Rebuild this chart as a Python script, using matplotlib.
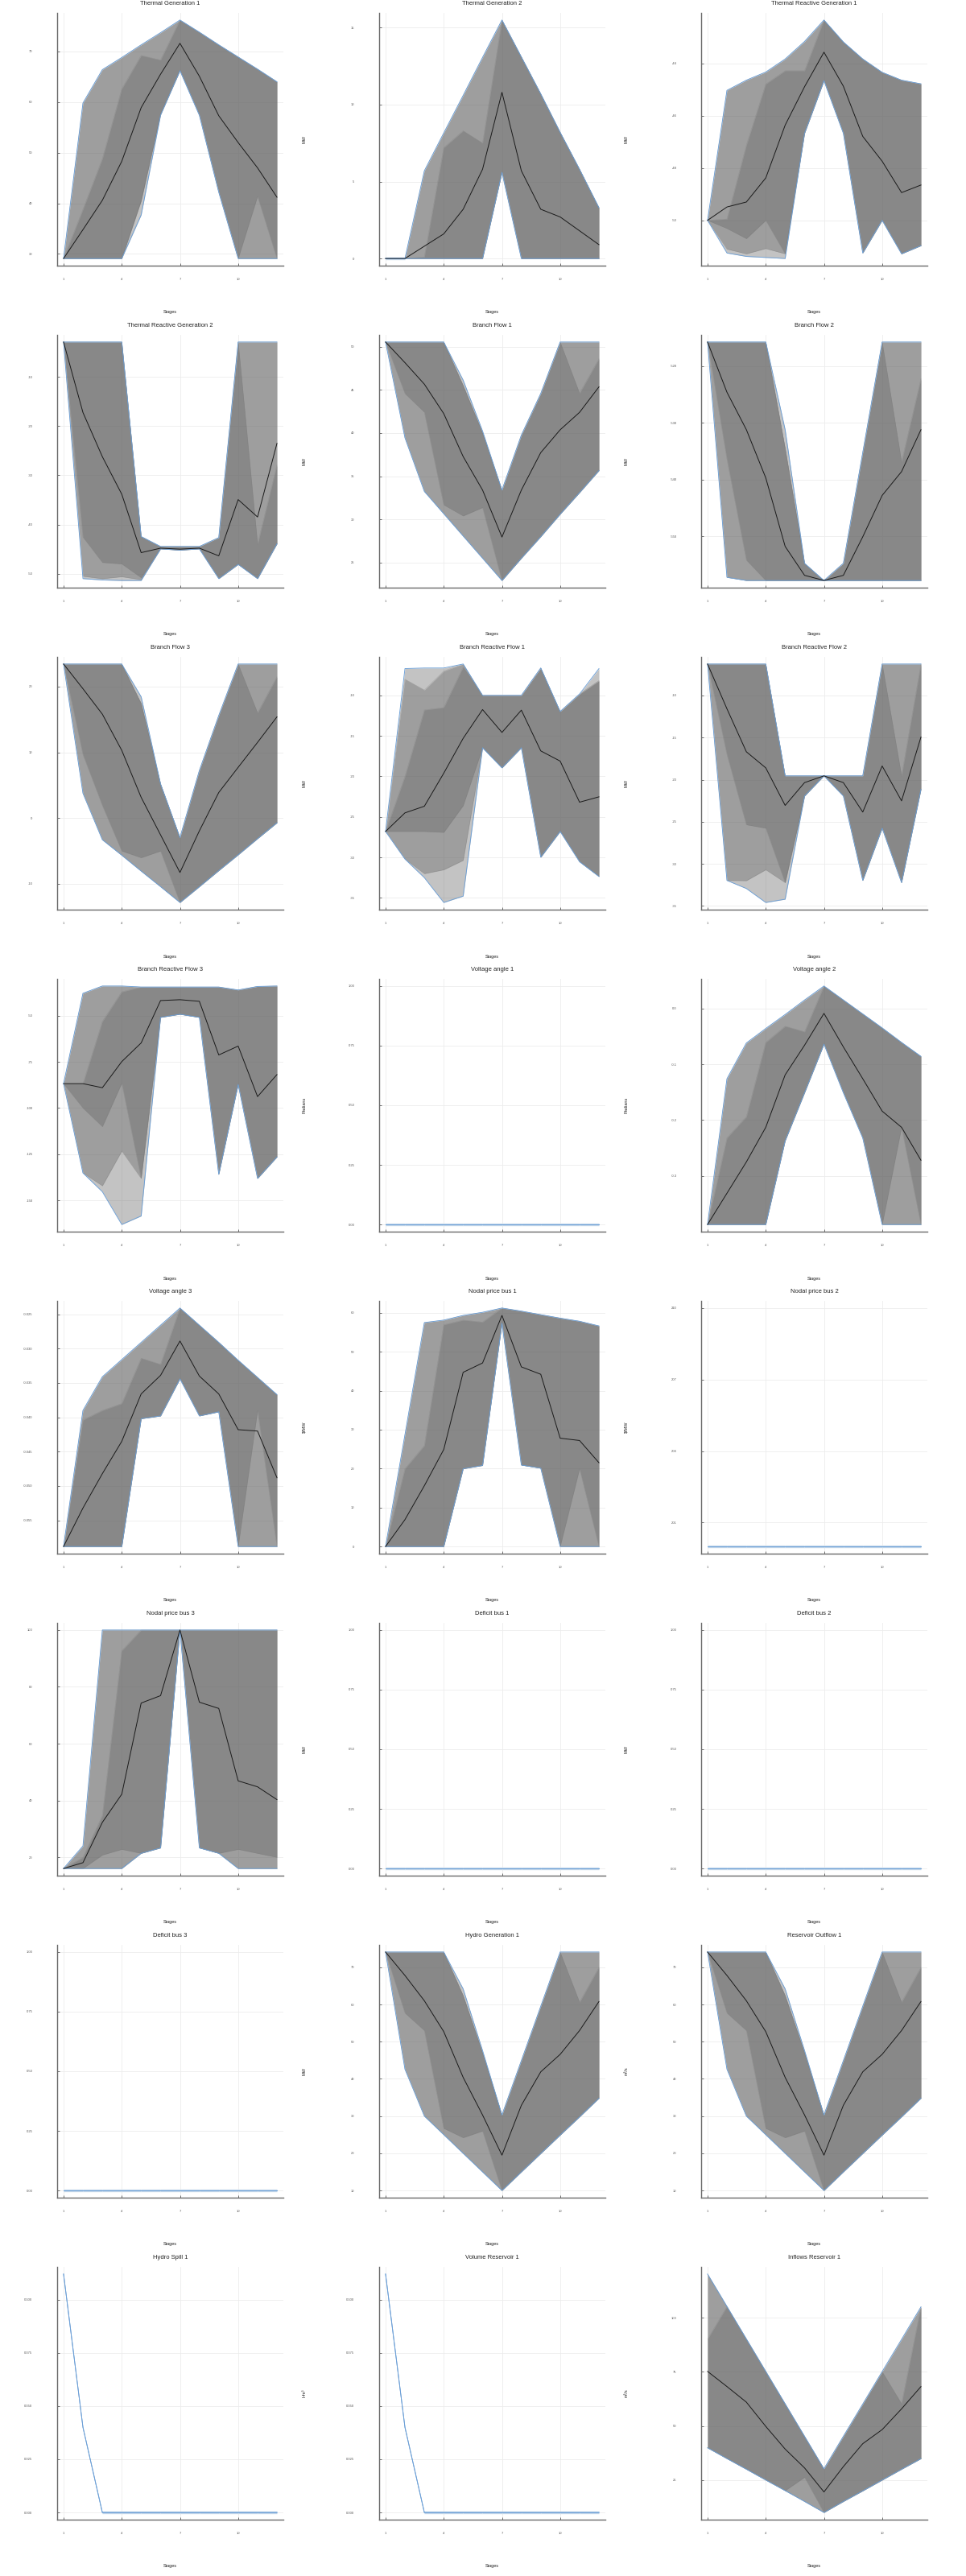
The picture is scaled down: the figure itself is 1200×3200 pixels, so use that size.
import matplotlib
matplotlib.use("Agg")
import matplotlib.pyplot as plt
import numpy as np

plt.rcParams['font.family'] = ['Liberation Sans', 'DejaVu Sans']

stages = list(range(1, 13))
xticks = [1, 4, 7, 10]

# ---- data: each panel = [q0, q10, q25, q50, q75, q90, q100] over 12 stages ----
tg1 = [
    [29.1, 29.1, 29.1, 29.1, 37.7, 57.4, 66.2, 57.4, 42.2, 29.1, 29.1, 29.1],
    [29.1, 29.1, 29.1, 29.1, 40.5, 57.6, 66.2, 57.4, 42.2, 29.1, 29.1, 29.1],
    [29.1, 29.1, 29.1, 29.1, 40.5, 57.6, 66.2, 57.4, 42.2, 29.1, 41.4, 29.1],
    [29.1, 34.8, 40.6, 48.3, 58.9, 65.5, 71.6, 65.1, 57.3, 52.0, 47.0, 41.2],
    [29.1, 38.8, 48.8, 62.6, 69.2, 68.3, 76.2, 73.8, 71.3, 68.9, 66.5, 64.0],
    [29.1, 59.8, 66.4, 68.8, 71.3, 73.7, 76.2, 73.8, 71.3, 68.9, 66.5, 64.0],
    [29.1, 59.8, 66.4, 68.8, 71.3, 73.7, 76.2, 73.8, 71.3, 68.9, 66.5, 64.0],
]
tg2 = [
    [0, 0, 0, 0, 0, 0, 5.6, 0, 0, 0, 0, 0],
    [0, 0, 0, 0, 0, 0, 5.6, 0, 0, 0, 0, 0],
    [0, 0, 0, 0, 0, 0, 5.6, 0, 0, 0, 0, 0],
    [0, 0, 0.8, 1.6, 3.2, 5.8, 10.8, 5.7, 3.2, 2.7, 1.8, 0.9],
    [0, 0, 0.1, 7.2, 8.3, 7.5, 15.5, 13.1, 10.7, 8.2, 5.8, 3.3],
    [0, 0, 5.7, 8.16, 10.6, 13.07, 15.5, 13.1, 10.7, 8.2, 5.8, 3.3],
    [0, 0, 5.7, 8.16, 10.6, 13.07, 15.5, 13.1, 10.7, 8.2, 5.8, 3.3],
]
trg1 = [
    [-50, -51.25, -51.38, -51.42, -51.46, -46.67, -44.66, -46.67, -51.25, -50.0, -51.28, -50.97],
    [-50, -51.1, -51.28, -51.08, -51.28, -46.67, -44.66, -46.67, -51.25, -50.0, -51.28, -50.97],
    [-50, -50.31, -50.70, -50.0, -51.28, -46.67, -44.66, -46.67, -51.25, -50.0, -51.28, -50.97],
    [-50, -49.49, -49.30, -48.38, -46.36, -44.89, -43.57, -44.87, -46.79, -47.74, -48.94, -48.65],
    [-50, -49.95, -47.13, -44.79, -44.28, -44.28, -42.34, -43.18, -43.83, -44.34, -44.64, -44.78],
    [-50, -45.03, -44.64, -44.33, -43.83, -43.16, -42.34, -43.18, -43.83, -44.34, -44.64, -44.78],
    [-50, -45.03, -44.64, -44.33, -43.83, -43.16, -42.34, -43.18, -43.83, -44.34, -44.64, -44.78],
]
trg2 = [
    [-2.92, -50.99, -51.26, -51.37, -51.37, -44.95, -45.2, -44.95, -50.99, -48.1, -50.99, -43.91],
    [-2.92, -50.5, -51.0, -50.6, -51.2, -44.95, -45.2, -44.95, -50.99, -48.1, -50.99, -43.91],
    [-2.92, -42.55, -47.7, -48.0, -50.8, -44.95, -45.2, -44.95, -50.99, -48.1, -50.99, -43.91],
    [-2.92, -17.24, -26.22, -33.84, -45.71, -44.8, -45.0, -44.8, -46.36, -34.93, -38.47, -23.5],
    [-2.92, -2.92, -2.92, -2.92, -42.44, -44.46, -44.46, -44.46, -42.66, -2.92, -44.0, -27.9],
    [-2.92, -2.92, -2.92, -2.92, -42.44, -44.46, -44.46, -44.46, -42.66, -2.92, -2.92, -2.92],
    [-2.92, -2.92, -2.92, -2.92, -42.44, -44.46, -44.46, -44.46, -42.66, -2.92, -2.92, -2.92],
]
bf1 = [
    [50.53, 39.44, 33.23, 30.65, 28.07, 25.5, 22.92, 25.5, 28.0, 30.6, 33.1, 35.65],
    [50.53, 39.44, 33.23, 30.65, 28.07, 25.5, 22.92, 25.5, 28.0, 30.6, 33.1, 35.65],
    [50.53, 44.57, 42.4, 31.68, 30.4, 31.37, 22.92, 25.5, 28.0, 30.6, 33.1, 35.65],
    [50.53, 48.14, 45.65, 42.24, 37.27, 33.39, 27.95, 33.39, 37.73, 40.37, 42.39, 45.34],
    [50.53, 50.53, 50.53, 50.53, 45.5, 40.0, 33.39, 39.75, 44.57, 50.53, 44.6, 48.6],
    [50.53, 50.53, 50.53, 50.53, 45.5, 40.0, 33.39, 39.75, 44.57, 50.53, 50.53, 50.53],
    [50.53, 50.53, 50.53, 50.53, 46.12, 40.22, 33.39, 39.75, 44.57, 50.53, 50.53, 50.53],
]
bf2 = [
    [-515.74, -557.25, -557.81, -557.81, -557.81, -557.81, -557.81, -557.81, -557.81, -557.81, -557.81, -557.81],
    [-515.74, -557.25, -557.81, -557.81, -557.81, -557.81, -557.81, -557.81, -557.81, -557.81, -557.81, -557.81],
    [-515.74, -536.4, -554.2, -557.81, -557.81, -557.81, -557.81, -557.81, -557.81, -557.81, -557.81, -557.81],
    [-515.74, -524.6, -531.2, -539.7, -551.8, -556.9, -557.8, -556.9, -550.1, -542.8, -538.6, -531.2],
    [-515.74, -515.74, -515.74, -515.74, -534.53, -554.78, -557.81, -554.78, -535.24, -515.74, -536.9, -522.2],
    [-515.74, -515.74, -515.74, -515.74, -534.53, -554.78, -557.81, -554.78, -535.24, -515.74, -515.74, -515.74],
    [-515.74, -515.74, -515.74, -515.74, -531.22, -554.78, -557.81, -554.78, -535.24, -515.74, -515.74, -515.74],
]
bf3 = [
    [23.43, 3.76, -3.31, -5.67, -8.08, -10.45, -12.86, -10.45, -8.0, -5.6, -3.14, -0.73],
    [23.43, 3.76, -3.31, -5.67, -8.08, -10.45, -12.86, -10.45, -8.0, -5.6, -3.14, -0.73],
    [23.43, 9.67, 1.92, -5.02, -6.04, -5.02, -12.86, -10.45, -8.0, -5.6, -3.14, -0.73],
    [23.43, 19.67, 15.8, 10.29, 3.14, -2.57, -8.29, -1.96, 3.88, 7.71, 11.51, 15.39],
    [23.43, 23.43, 23.43, 23.43, 17.43, 5.18, -2.98, 7.22, 15.59, 23.43, 16.0, 21.5],
    [23.43, 23.43, 23.43, 23.43, 17.43, 5.18, -2.98, 7.22, 15.59, 23.43, 23.43, 23.43],
    [23.43, 23.43, 23.43, 23.43, 18.45, 5.18, -2.98, 7.22, 15.59, 23.43, 23.43, 23.43],
]
brf1 = [
    [-26.79, -30.2, -32.5, -35.56, -34.77, -16.46, -18.94, -16.46, -29.97, -26.79, -30.53, -32.35],
    [-26.79, -30.2, -32.0, -31.52, -30.36, -16.46, -18.94, -16.46, -29.97, -26.79, -30.53, -32.35],
    [-26.79, -26.79, -26.79, -26.9, -23.6, -16.46, -18.94, -16.46, -29.97, -26.79, -30.53, -32.35],
    [-26.79, -24.5, -23.68, -19.6, -15.3, -11.75, -14.57, -11.82, -16.85, -18.11, -23.18, -22.52],
    [-26.79, -20.0, -11.8, -11.5, -6.5, -10.0, -10.0, -10.0, -6.62, -11.99, -9.83, -8.2],
    [-26.79, -8.0, -9.34, -7.0, -6.13, -10.0, -10.0, -10.0, -6.62, -11.99, -9.83, -8.2],
    [-26.79, -6.69, -6.62, -6.62, -6.13, -10.0, -10.0, -10.0, -6.62, -11.99, -9.83, -6.69],
]
brf2 = [
    [-6.27, -31.97, -32.93, -34.59, -34.2, -21.94, -19.55, -21.94, -31.97, -25.76, -32.23, -21.15],
    [-6.27, -31.97, -32.0, -30.7, -32.23, -21.94, -19.55, -21.94, -31.97, -25.76, -32.23, -21.15],
    [-6.27, -17.0, -25.35, -25.76, -32.23, -21.94, -19.55, -21.94, -31.97, -25.76, -32.23, -21.15],
    [-6.27, -11.59, -16.69, -18.6, -23.06, -20.35, -19.55, -20.35, -23.85, -18.38, -22.52, -14.94],
    [-6.27, -6.27, -6.27, -6.27, -19.55, -19.55, -19.55, -19.55, -19.55, -6.27, -19.55, -6.27],
    [-6.27, -6.27, -6.27, -6.27, -19.55, -19.55, -19.55, -19.55, -19.55, -6.27, -6.27, -6.27],
    [-6.27, -6.27, -6.27, -6.27, -19.55, -19.55, -19.55, -19.55, -19.55, -6.27, -6.27, -6.27],
]
brf3 = [
    [-86.8, -135.07, -145.2, -162.9, -158.3, -51.0, -49.3, -51.0, -135.8, -87.2, -138.0, -126.4],
    [-86.8, -135.07, -142.0, -123.2, -138.0, -51.0, -49.3, -51.0, -135.8, -87.2, -138.0, -126.4],
    [-86.8, -100.0, -110.0, -86.5, -138.0, -51.0, -49.3, -51.0, -135.8, -87.2, -138.0, -126.4],
    [-86.8, -86.8, -89.0, -74.9, -64.8, -41.9, -41.45, -42.3, -71.3, -66.5, -93.8, -81.9],
    [-86.8, -86.8, -53.2, -37.2, -34.6, -34.6, -34.6, -34.6, -34.6, -36.2, -34.3, -34.06],
    [-86.8, -37.97, -34.06, -34.06, -34.6, -34.6, -34.6, -34.6, -34.6, -36.2, -34.3, -34.06],
    [-86.8, -37.97, -34.06, -34.06, -34.6, -34.6, -34.6, -34.6, -34.6, -36.2, -34.3, -34.06],
]
va1 = [[0.0] * 12 for _ in range(7)]
va2 = [
    [-0.387, -0.387, -0.387, -0.387, -0.237, -0.151, -0.064, -0.151, -0.232, -0.387, -0.387, -0.387],
    [-0.387, -0.387, -0.387, -0.387, -0.237, -0.151, -0.064, -0.151, -0.232, -0.387, -0.387, -0.387],
    [-0.387, -0.387, -0.387, -0.387, -0.237, -0.151, -0.064, -0.151, -0.232, -0.387, -0.213, -0.387],
    [-0.387, -0.331, -0.275, -0.213, -0.119, -0.066, -0.009, -0.069, -0.126, -0.184, -0.213, -0.272],
    [-0.387, -0.232, -0.194, -0.061, -0.032, -0.042, 0.040, 0.015, -0.010, -0.035, -0.061, -0.086],
    [-0.387, -0.126, -0.062, -0.036, -0.011, 0.015, 0.040, 0.015, -0.010, -0.035, -0.061, -0.086],
    [-0.387, -0.126, -0.062, -0.036, -0.011, 0.015, 0.040, 0.015, -0.010, -0.035, -0.061, -0.086],
]
va3 = [
    [-0.0588, -0.0588, -0.0588, -0.0588, -0.0402, -0.0398, -0.0344, -0.0398, -0.0392, -0.0588, -0.0588, -0.0588],
    [-0.0588, -0.0588, -0.0588, -0.0588, -0.0402, -0.0398, -0.0344, -0.0398, -0.0392, -0.0588, -0.0588, -0.0588],
    [-0.0588, -0.0588, -0.0588, -0.0588, -0.0402, -0.0398, -0.0344, -0.0398, -0.0392, -0.0588, -0.0390, -0.0588],
    [-0.0588, -0.0532, -0.0482, -0.0435, -0.0366, -0.0339, -0.0289, -0.0340, -0.0366, -0.0418, -0.0420, -0.0488],
    [-0.0588, -0.0404, -0.0390, -0.0380, -0.0314, -0.0323, -0.0241, -0.0266, -0.0291, -0.0317, -0.0342, -0.0367],
    [-0.0588, -0.0390, -0.0341, -0.0316, -0.0291, -0.0266, -0.0241, -0.0266, -0.0291, -0.0317, -0.0342, -0.0367],
    [-0.0588, -0.0390, -0.0341, -0.0316, -0.0291, -0.0266, -0.0241, -0.0266, -0.0291, -0.0317, -0.0342, -0.0367],
]
np1 = [
    [0, 0, 0, 0, 19.96, 20.8, 57.3, 20.9, 20.1, 0, 0, 0],
    [0, 0, 0, 0, 19.96, 20.8, 57.3, 20.9, 20.1, 0, 0, 0],
    [0, 0, 0, 0, 19.96, 20.8, 57.3, 20.9, 20.1, 0, 19.96, 0],
    [0, 6.9, 15.6, 24.9, 44.7, 47.1, 59.3, 46.1, 44.2, 27.8, 27.2, 21.5],
    [0, 19.96, 25.9, 56.9, 58.1, 57.6, 61.2, 60.4, 59.5, 58.6, 57.8, 56.6],
    [0, 28.7, 57.47, 58.1, 59.3, 60.1, 61.2, 60.4, 59.5, 58.6, 57.8, 56.6],
    [0, 28.7, 57.47, 58.1, 59.3, 60.1, 61.2, 60.4, 59.5, 58.6, 57.8, 56.6],
]
np2 = [[200.0] * 12 for _ in range(7)]
np3 = [
    [16.05, 16.05, 16.05, 16.05, 21.4, 23.3, 100, 23.3, 21.4, 16.05, 16.05, 16.05],
    [16.05, 16.05, 16.05, 16.05, 21.4, 23.3, 100, 23.3, 21.4, 16.05, 16.05, 16.05],
    [16.05, 16.05, 20.8, 22.8, 21.4, 23.3, 100, 23.3, 21.4, 22.8, 21.4, 20.0],
    [16.05, 18.1, 32.3, 42.2, 74.3, 76.9, 100, 74.6, 72.4, 46.9, 44.8, 40.3],
    [16.05, 20.0, 34.7, 92.7, 100, 100, 100, 100, 100, 100, 100, 100],
    [16.05, 23.98, 100, 100, 100, 100, 100, 100, 100, 100, 100, 100],
    [16.05, 23.98, 100, 100, 100, 100, 100, 100, 100, 100, 100, 100],
]
db1 = [[0.0] * 12 for _ in range(7)]
db2 = [[0.0] * 12 for _ in range(7)]
db3 = [[0.0] * 12 for _ in range(7)]
hg1 = [
    [74.1, 42.6, 30.0, 25.0, 20.0, 15.0, 10.0, 15.0, 19.95, 24.9, 29.8, 34.8],
    [74.1, 42.6, 30.0, 25.0, 20.0, 15.0, 10.0, 15.0, 19.95, 24.9, 29.8, 34.8],
    [74.1, 57.7, 53.0, 26.7, 24.2, 26.0, 10.0, 15.0, 19.95, 24.9, 29.8, 34.8],
    [74.1, 67.8, 61.0, 52.7, 40.4, 30.3, 19.5, 32.9, 41.9, 46.6, 53.0, 60.8],
    [74.1, 74.1, 74.1, 74.1, 62.4, 47.0, 30.3, 44.9, 59.5, 74.1, 60.6, 70.0],
    [74.1, 74.1, 74.1, 74.1, 62.4, 47.0, 30.3, 44.9, 59.5, 74.1, 74.1, 74.1],
    [74.1, 74.1, 74.1, 74.1, 64.2, 47.6, 30.3, 44.9, 59.5, 74.1, 74.1, 74.1],
]
ro1 = [
    [74.1, 42.6, 30.0, 25.0, 20.0, 15.0, 10.0, 15.0, 19.95, 24.9, 29.8, 34.8],
    [74.1, 42.6, 30.0, 25.0, 20.0, 15.0, 10.0, 15.0, 19.95, 24.9, 29.8, 34.8],
    [74.1, 57.7, 53.0, 26.7, 24.2, 26.0, 10.0, 15.0, 19.95, 24.9, 29.8, 34.8],
    [74.1, 67.8, 61.0, 52.7, 40.4, 30.3, 19.5, 32.9, 41.9, 46.6, 53.0, 60.8],
    [74.1, 74.1, 74.1, 74.1, 62.4, 47.0, 30.3, 44.9, 59.5, 74.1, 60.6, 70.0],
    [74.1, 74.1, 74.1, 74.1, 62.4, 47.0, 30.3, 44.9, 59.5, 74.1, 74.1, 74.1],
    [74.1, 74.1, 74.1, 74.1, 64.2, 47.6, 30.3, 44.9, 59.5, 74.1, 74.1, 74.1],
]
hs1_row = [0.112, 0.040, 0, 0, 0, 0, 0, 0, 0, 0, 0, 0]
hs1 = [hs1_row for _ in range(7)]
vr1_row = [0.112, 0.040, 0, 0, 0, 0, 0, 0, 0, 0, 0, 0]
vr1 = [vr1_row for _ in range(7)]
ir1 = [
    [39.9, 34.9, 30.0, 25.0, 20.1, 15.1, 10.0, 15.1, 20.0, 25.0, 30.0, 34.9],
    [39.9, 34.9, 30.0, 25.0, 20.1, 15.1, 10.0, 15.1, 20.0, 25.0, 30.0, 34.9],
    [39.9, 34.9, 30.0, 25.0, 20.1, 26.3, 10.0, 15.1, 20.0, 25.0, 30.0, 34.9],
    [75.2, 68.2, 61.0, 49.8, 39.3, 30.6, 19.5, 31.2, 41.8, 48.3, 57.9, 68.2],
    [90.1, 105.2, 90.2, 75.2, 60.2, 45.2, 30.2, 45.2, 60.1, 75.1, 60.3, 105.0],
    [120.2, 105.2, 90.2, 75.2, 60.2, 45.2, 30.2, 45.2, 60.1, 75.1, 90.0, 105.0],
    [120.2, 105.2, 90.2, 75.2, 60.2, 45.2, 30.2, 45.2, 60.1, 75.1, 90.0, 105.0],
]

titles = ["Thermal Generation 1", "Thermal Generation 2", "Thermal Reactive Generation 1",
          "Thermal Reactive Generation 2", "Branch Flow 1", "Branch Flow 2",
          "Branch Flow 3", "Branch Reactive Flow 1", "Branch Reactive Flow 2",
          "Branch Reactive Flow 3", "Voltage angle 1", "Voltage angle 2",
          "Voltage angle 3", "Nodal price bus 1", "Nodal price bus 2",
          "Nodal price bus 3", "Deficit bus 1", "Deficit bus 2",
          "Deficit bus 3", "Hydro Generation 1", "Reservoir Outflow 1",
          "Hydro Spill 1", "Volume Reservoir 1", "Inflows Reservoir 1"]
ylabels = ["MW", "MW", "MW", "MW", "MW", "MW", "MW", "MW", "MW",
           "Radians", "Radians", "Radians", "$/MW", "$/MW", "$/MW",
           "MW", "MW", "MW", "MW", "MW", "m³/s", "Hm³", "Hm³", "m³/s"]
panels = [tg1, tg2, trg1, trg2, bf1, bf2, bf3, brf1, brf2, brf3, va1, va2,
          va3, np1, np2, np3, db1, db2, db3, hg1, ro1, hs1, vr1, ir1]
yticks = [
    [30, 40, 50, 60, 70], [0, 5, 10, 15], [-50, -48, -46, -44],
    [-50, -40, -30, -20, -10], [25, 30, 35, 40, 45, 50], [-550, -540, -530, -520],
    [-10, 0, 10, 20], [-35, -30, -25, -20, -15, -10], [-35, -30, -25, -20, -15, -10],
    [-150, -125, -100, -75, -50], [0, 0.25, 0.5, 0.75, 1.0], [-0.3, -0.2, -0.1, 0.0],
    [-0.055, -0.05, -0.045, -0.04, -0.035, -0.03, -0.025], [0, 10, 20, 30, 40, 50, 60],
    [201, 204, 207, 210], [20, 40, 60, 80, 100], [0, 0.25, 0.5, 0.75, 1.0],
    [0, 0.25, 0.5, 0.75, 1.0], [0, 0.25, 0.5, 0.75, 1.0], [10, 20, 30, 40, 50, 60, 70],
    [10, 20, 30, 40, 50, 60, 70], [0, 0.025, 0.05, 0.075, 0.1], [0, 0.025, 0.05, 0.075, 0.1],
    [25, 50, 75, 100],
]
ytick_labels = [
    ["30", "40", "50", "60", "70"], ["0", "5", "10", "15"], ["-50", "-48", "-46", "-44"],
    ["-50", "-40", "-30", "-20", "-10"], ["25", "30", "35", "40", "45", "50"],
    ["-550", "-540", "-530", "-520"], ["-10", "0", "10", "20"],
    ["-35", "-30", "-25", "-20", "-15", "-10"], ["-35", "-30", "-25", "-20", "-15", "-10"],
    ["-150", "-125", "-100", "-75", "-50"], ["0.00", "0.25", "0.50", "0.75", "1.00"],
    ["-0.3", "-0.2", "-0.1", "0.0"],
    ["-0.055", "-0.050", "-0.045", "-0.040", "-0.035", "-0.030", "-0.025"],
    ["0", "10", "20", "30", "40", "50", "60"], ["201", "204", "207", "210"],
    ["20", "40", "60", "80", "100"], ["0.00", "0.25", "0.50", "0.75", "1.00"],
    ["0.00", "0.25", "0.50", "0.75", "1.00"], ["0.00", "0.25", "0.50", "0.75", "1.00"],
    ["10", "20", "30", "40", "50", "60", "70"], ["10", "20", "30", "40", "50", "60", "70"],
    ["0.000", "0.025", "0.050", "0.075", "0.100"], ["0.000", "0.025", "0.050", "0.075", "0.100"],
    ["25", "50", "75", "100"],
]
const_ylims = {10: (0, 1), 14: (200, 210), 16: (0, 1), 17: (0, 1), 18: (0, 1)}

# ---- drawing ----
W, H = 1200, 3200
fig = plt.figure(figsize=(12, 32), dpi=100)
BAND = '#666666'
EDGE = '#6c9fd6'
FLAT = '#c5d8ea'
x = np.array(stages)

for i, q in enumerate(panels):
    r, c = divmod(i, 3)
    L = c * 400 + 71
    R = c * 400 + 352
    T = r * 400 + 16
    B = r * 400 + 330
    ax = fig.add_axes([L / W, 1 - B / H, (R - L) / W, (B - T) / H])
    q = np.array(q, dtype=float)
    lo, hi = q[0].min(), q[6].max()
    if hi - lo > 0:
        rng = hi - lo
        ax.set_ylim(lo - 0.03 * rng, hi + 0.03 * rng)
    else:
        a, b = const_ylims[i]
        ax.set_ylim(a - 0.03 * (b - a), b + 0.03 * (b - a))
    ax.set_xlim(0.67, 12.33)

    degenerate = np.allclose(q[0], q[6])
    if not degenerate:
        for lo_i, hi_i in [(0, 6), (1, 5), (2, 4)]:
            ax.fill_between(x, q[lo_i], q[hi_i], color=BAND, alpha=0.39, lw=0, zorder=2)
        for k in (1, 2, 4, 5):
            ax.plot(x, q[k], color='#7a7a7a', lw=0.3, alpha=0.5, zorder=3)
    # flat degenerate segments
    for s in range(11):
        if (np.isclose(q[0][s], q[6][s]) and np.isclose(q[0][s + 1], q[6][s + 1])
                and np.isclose(q[6][s], q[6][s + 1])):
            ax.plot(x[s:s + 2], q[6][s:s + 2], color=FLAT, lw=2.4, zorder=3,
                    solid_capstyle='butt')
    ax.plot(x, q[0], color=EDGE, lw=0.65, zorder=4)
    ax.plot(x, q[6], color=EDGE, lw=0.65, zorder=4)
    if not degenerate:
        ax.plot(x, q[3], color='#1a1a1a', lw=0.7, zorder=5)

    ax.set_xticks(xticks)
    ax.set_xticklabels([str(t) for t in xticks])
    ax.set_yticks(yticks[i])
    ax.set_yticklabels(ytick_labels[i])
    ax.grid(True, color='#ececec', lw=0.6, zorder=0)
    ax.set_axisbelow(True)
    for sp in ('top', 'right'):
        ax.spines[sp].set_visible(False)
    for sp in ('left', 'bottom'):
        ax.spines[sp].set_color('#6a6a6a')
        ax.spines[sp].set_linewidth(1.0)
    ax.tick_params(axis='y', direction='in', length=2.5, width=0.6, colors='#555555',
                   labelsize=3, pad=22, labelcolor='#555555')
    ax.tick_params(axis='x', direction='in', length=2.5, width=0.6, colors='#555555',
                   labelsize=3, pad=11, labelcolor='#555555')

    cx = (L + R) / 2
    fig.text(cx / W, 1 - (r * 400 + 5) / H, titles[i], ha='center', va='center',
             fontsize=5.5, color='#222222')
    fig.text(cx / W, 1 - (r * 400 + 388) / H, "Stages", ha='center', va='center',
             fontsize=4, color='#222222')
    if c > 0:
        fig.text((c * 400 - 22) / W, 1 - (r * 400 + 173) / H, ylabels[i],
                 ha='center', va='center', rotation=90, fontsize=4, color='#222222')

fig.savefig("out.png", dpi=100, facecolor='white')
